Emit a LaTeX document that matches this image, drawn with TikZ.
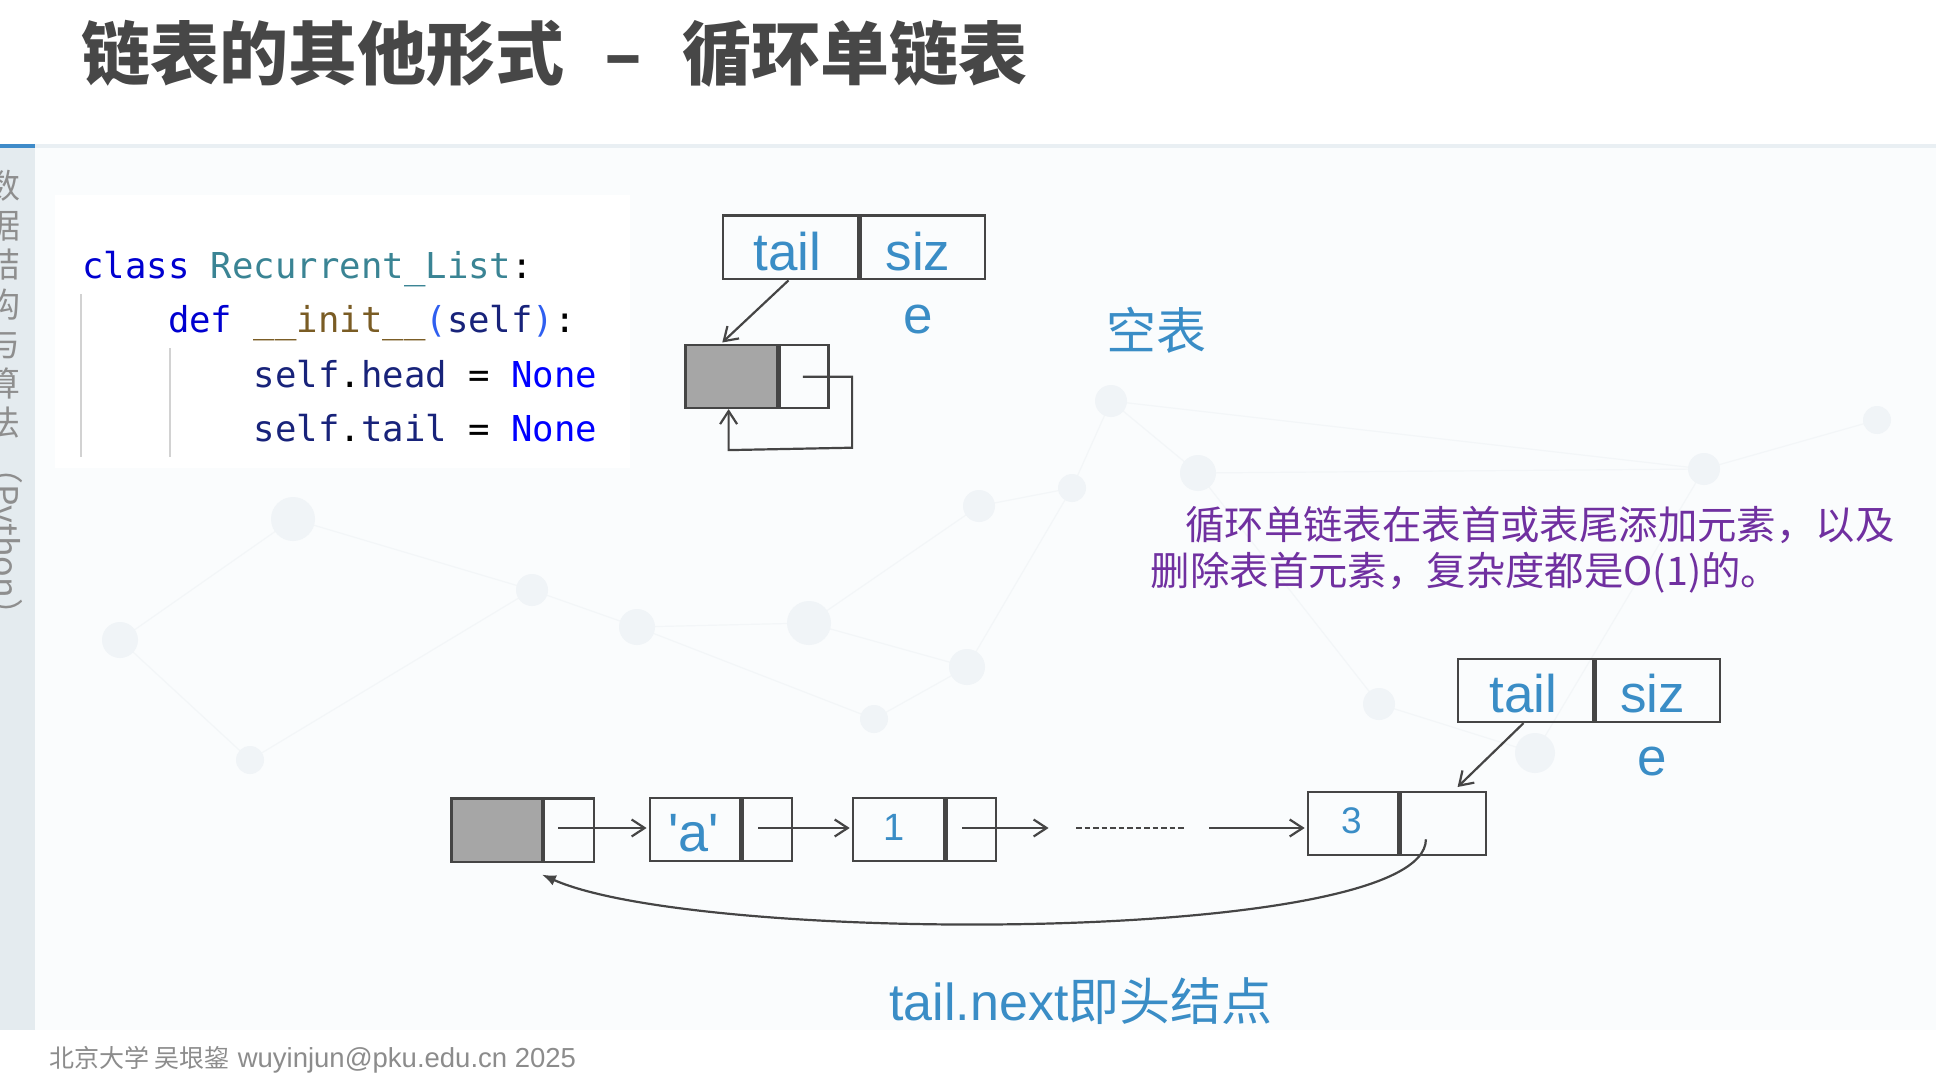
\documentclass[tikz,border=0pt]{standalone}
\usepackage{fontspec}
\setmainfont{Liberation Sans}
\newfontfamily\cjk{Noto Sans CJK SC}
\newfontfamily\code{DejaVu Sans Mono}
\usetikzlibrary{arrows.meta}
\definecolor{boxc}{HTML}{454545}
\definecolor{fillc}{HTML}{A6A6A6}
\definecolor{lblc}{HTML}{3A8DC6}
\definecolor{purp}{HTML}{7030A0}
\definecolor{titc}{HTML}{474747}
\definecolor{footc}{HTML}{8C8C8C}
\definecolor{kw}{HTML}{0000D0}
\definecolor{clsn}{HTML}{3A8494}
\definecolor{fnc}{HTML}{7A5C24}
\definecolor{parc}{HTML}{2F5FF0}
\definecolor{slf}{HTML}{18237A}
\definecolor{nonec}{HTML}{0000FF}
\definecolor{guide}{HTML}{D2D2D2}
\definecolor{sideb}{HTML}{E4EBEF}
\definecolor{sidet}{HTML}{8E8E8E}
\definecolor{rulec}{HTML}{E9EFF3}
\definecolor{ruleb}{HTML}{3F8BC9}
\definecolor{bgc}{HTML}{FAFCFD}
\definecolor{netc}{HTML}{F0F4F7}
\definecolor{netlc}{HTML}{F3F6F8}
\newcommand{\us}{\char95\relax}
\begin{document}
\begin{tikzpicture}[x=1pt,y=-1pt,
  cell/.style={draw=boxc, line width=2.4pt, inner sep=0pt, anchor=north west},
  lbl/.style={text=lblc, inner sep=0pt, anchor=base, font=\fontsize{53}{63}\selectfont},
  ptr/.style={draw=boxc, line width=2.2pt, -{Straight Barb[length=13pt,width=17pt]}},
  loopc/.style={draw=boxc, line width=2.2pt, -{Latex[length=14pt,width=11pt]}},
  dots/.style={draw=boxc, line width=1.8pt, dash pattern=on 5.5pt off 3pt},
  codeln/.style={inner sep=0pt, anchor=base west, font=\code\fontsize{35.65}{42}\selectfont},
  cjktext/.style={inner sep=0pt, anchor=base west},
  netl/.style={draw=netlc, line width=1.2pt}]
\useasboundingbox (0,0) rectangle (1936,1078);
\fill[white] (0,0) rectangle (1936,1078);
\fill[bgc] (35,148) rectangle (1936,1030);
% faint background network
\draw[netl] (1111,401) -- (1198,473) -- (1379,704) -- (1535,753);
\draw[netl] (1072,488) -- (1111,401) -- (1704,469) -- (1877,420);
\draw[netl] (979,506) -- (1072,488) -- (967,667) -- (809,623) -- (637,627) -- (532,590) -- (293,519);
\draw[netl] (967,667) -- (874,719) -- (637,627);
\draw[netl] (1198,473) -- (1704,469) -- (1535,753);
\draw[netl] (293,519) -- (120,640) -- (250,760) -- (532,590);
\draw[netl] (979,506) -- (809,623);
\foreach \x/\y/\r in {1111/401/16,1198/473/18,1072/488/14,979/506/16,809/623/22,967/667/18,1379/704/16,1535/753/20,293/519/22,637/627/18,532/590/16,874/719/14,1704/469/16,1877/420/14,120/640/18,250/760/14}
  \fill[netc] (\x,\y) circle (\r);
\fill[white] (55,195) rectangle (630,468);
% rule and sidebar
\fill[rulec] (35,144) rectangle (1936,148);
\fill[ruleb] (0,144) rectangle (35,148);
\fill[sideb] (0,148) rectangle (35,1030);
\node[inner sep=0pt, text=sidet, font=\cjk\fontsize{34}{39.5}\selectfont, align=center, anchor=north] (side) at (4,170) {数\\据\\结\\构\\与\\算\\法};
\node[inner sep=0pt, text=sidet, font=\cjk\fontsize{34}{39.5}\selectfont, rotate=-90, anchor=west] (sidep) at (4,450) {（Python）};
% title
\node[cjktext, text=titc, font=\cjk\bfseries\fontsize{69}{80}\selectfont] (title) at (81,80) {链表的其他形式\hspace{40pt}–\hspace{40pt}循环单链表};
% code
\draw[guide, line width=2pt] (81.2,294) -- (81.2,457);
\draw[guide, line width=2pt] (169.6,348) -- (169.6,457);
\node[codeln] (c1) at (82,278) {{\color{kw}class} {\color{clsn}Recurrent\us List}{\color{black}:}};
\node[codeln] (c2) at (167.8,332.5) {{\color{kw}def} {\color{fnc}\us\us init\us\us}{\color{parc}(}{\color{slf}self}{\color{parc})}{\color{black}:}};
\node[codeln] (c3) at (253.7,387) {{\color{slf}self}{\color{black}.}{\color{slf}head} {\color{black}=} {\color{nonec}None}};
\node[codeln] (c4) at (253.7,441) {{\color{slf}self}{\color{black}.}{\color{slf}tail} {\color{black}=} {\color{nonec}None}};
% empty list
\node[cell, minimum width=135, minimum height=63.5] (et) at (721.8,214.5) {};
\node[cell, minimum width=124.6, minimum height=63.5] (es) at (et.north east) {};
\node[lbl] (etl) at (787.5,270.7) {tail};
\node[lbl] (esl) at (917.9,270.7) {siz};
\node[lbl] (ese) at (917.9,333.3) {e};
\node[cell, fill=fillc, minimum width=91.8, minimum height=62.7] (e0a) at (684.3,344) {};
\node[cell, minimum width=48.9, minimum height=62.7] (e0b) at (e0a.north east) {};
\draw[ptr] ([xshift=-2pt]et.south) -- ([xshift=38pt,yshift=1.5pt]e0a.north west);
\coordinate (el0) at (802.9,376.7);
\draw[ptr] (el0) -- ++(49.2,0) -- ++(0,71) -- ([xshift=44.3pt,yshift=-41pt]e0a.south west) -- ([xshift=44.3pt]e0a.south west);
\node[inner sep=0pt, text=lblc, font=\cjk\fontsize{50}{60}\selectfont] (empty) at (1156.4,330) {空表};
% note
\node[cjktext, text=purp, font=\cjk\fontsize{39.4}{46}\selectfont] (n1) at (1185,539.5) {循环单链表在表首或表尾添加元素，以及};
\node[cjktext, text=purp, font=\cjk\fontsize{39.4}{46}\selectfont] (n2) at (1150.6,585.2) {删除表首元素，复杂度都是O(1)的。};
% list
\node[cell, fill=fillc, minimum width=90.1, minimum height=63.4] (hA) at (450.4,797.3) {};
\node[cell, minimum width=49.6, minimum height=63.4] (hB) at (hA.north east) {};
\node[cell, minimum width=90.2, minimum height=63.3] (aA) at (648.6,796.7) {};
\node[cell, minimum width=49.5, minimum height=63.3] (aB) at (aA.north east) {};
\node[cell, minimum width=91.1, minimum height=63.3] (oA) at (851.7,796.7) {};
\node[cell, minimum width=49.5, minimum height=63.3] (oB) at (oA.north east) {};
\node[cell, minimum width=90.2, minimum height=63] (tA) at (1306.7,790.7) {};
\node[cell, minimum width=85.2, minimum height=63] (tB) at (tA.north east) {};
\node[cell, minimum width=135.3, minimum height=63] (bt) at (1456.7,657.7) {};
\node[cell, minimum width=124.5, minimum height=63] (bs) at (bt.north east) {};
\node[lbl, font=\fontsize{54}{63}\selectfont] (la) at (693.5,851.7) {\textquotesingle a\textquotesingle};
\node[lbl, font=\fontsize{38}{45}\selectfont] (l1) at (894,840.7) {1};
\node[lbl, font=\fontsize{37}{45}\selectfont] (l3) at (1351.3,833.3) {3};
\node[lbl] (btl) at (1523.2,712.7) {tail};
\node[lbl] (bsl) at (1652.7,712.7) {siz};
\node[lbl] (bse) at (1652.7,775) {e};
\coordinate (p0) at (558.4,828);
\draw[ptr] (p0) -- ([xshift=-2pt]p0 -| aA.west);
\coordinate (p1) at (758.4,828);
\draw[ptr] (p1) -- ([xshift=-2pt]p1 -| oA.west);
\coordinate (p2) at (962.4,828);
\coordinate (p2e) at (1048.6,828);
\draw[ptr] (p2) -- (p2e);
\coordinate (d0) at (1076,828);
\coordinate (d1) at (1186,828);
\draw[dots] (d0) -- (d1);
\coordinate (p3) at (1209.4,828);
\draw[ptr] (p3) -- ([xshift=-2pt]p3 -| tA.west);
\coordinate (t3tip) at (1457.6,787);
\draw[ptr] ([xshift=-2pt]bt.south) -- (t3tip);
\coordinate (cs) at (1425.9,839.3);
\draw[loopc] (cs) .. controls (1426,945) and (700,945) .. ([xshift=-1pt,yshift=-11.5pt]hB.south west);
\node[cjktext, text=lblc] (cap) at (889.3,1020) {\fontsize{52}{60}\selectfont tail.next{\cjk\fontsize{51}{60}\selectfont 即头结点}};
% footer
\node[cjktext, text=footc] (foot) at (49,1067) {{\cjk\fontsize{25}{30}\selectfont 北京大学 吴垠鋆}\hspace{8pt}{\fontsize{27.5}{30}\selectfont wuyinjun@pku.edu.cn 2025}};
\end{tikzpicture}
\end{document}
